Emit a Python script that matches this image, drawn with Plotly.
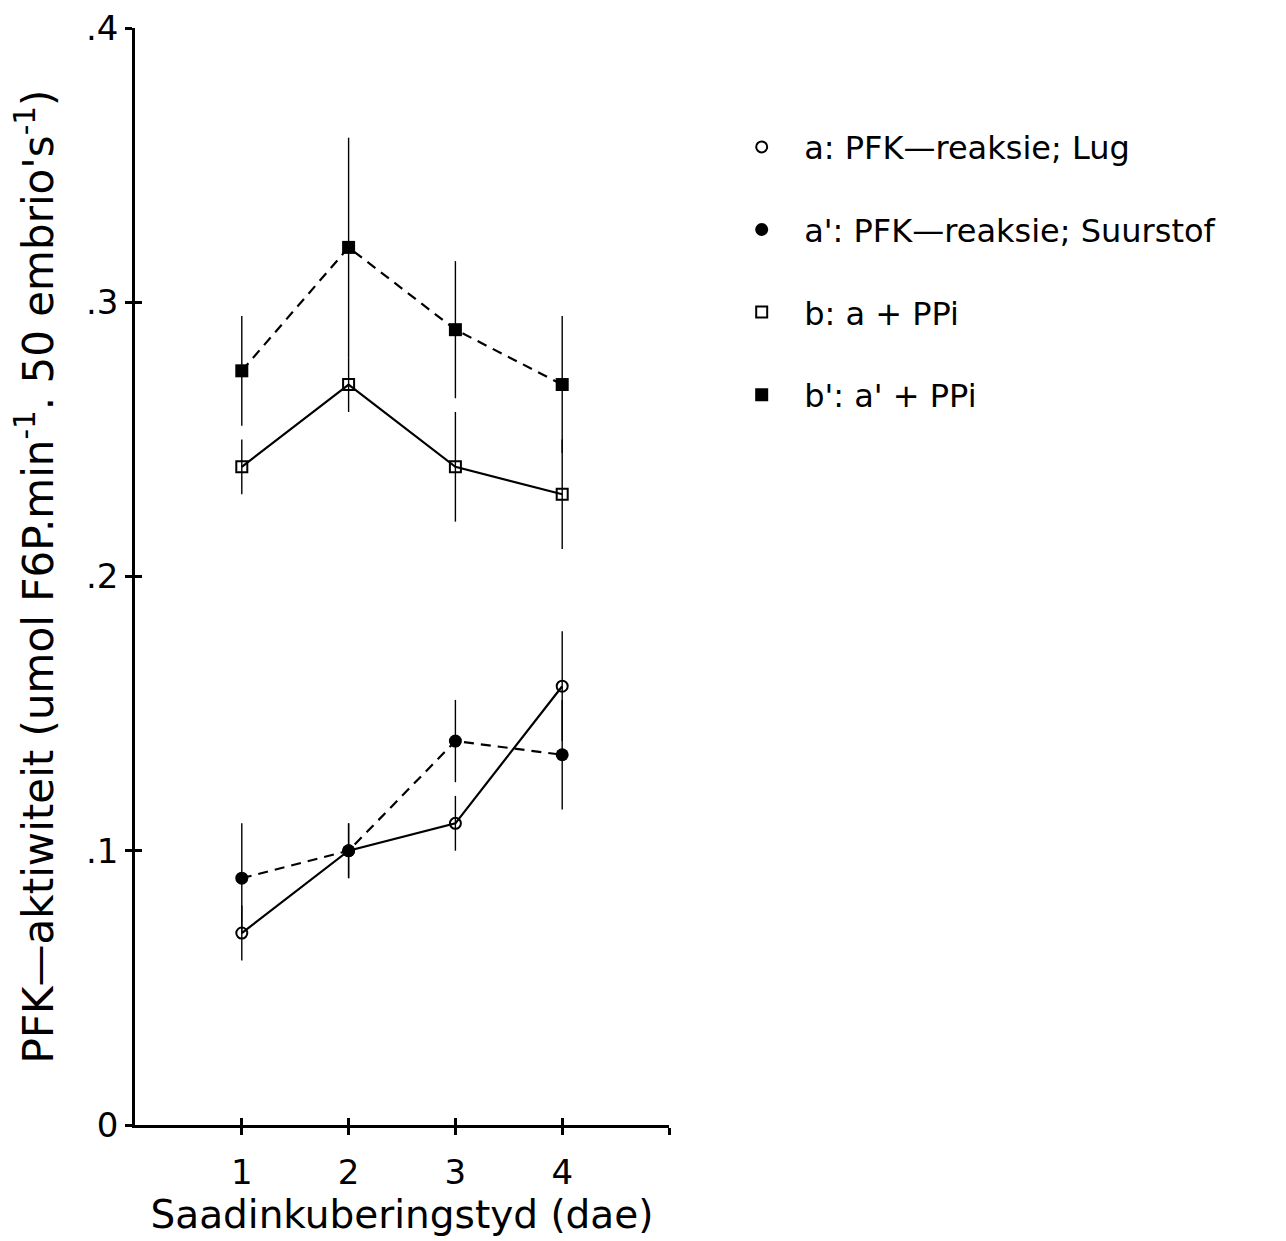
import plotly.graph_objects as go

days = [1, 2, 3, 4]

a_vals = [0.07, 0.10, 0.11, 0.16]
a_err = [0.01, 0.01, 0.01, 0.02]

a2_vals = [0.09, 0.10, 0.14, 0.135]
a2_err = [0.02, 0.01, 0.015, 0.02]

b_vals = [0.24, 0.27, 0.24, 0.23]
b_err = [0.01, 0.01, 0.02, 0.02]

b2_vals = [0.275, 0.32, 0.29, 0.27]
b2_err = [0.02, 0.04, 0.025, 0.025]

names = ["a: PFK—reaksie; Lug", "a': PFK—reaksie; Suurstof", "b: a + PPi", "b': a' + PPi"]

x_ticks = [1, 2, 3, 4]
x_ticktext = ["1", "2", "3", "4"]
x_all_ticks = [1, 2, 3, 4, 5]
x_end_tick = [5]
y_ticks = [0, 0.1, 0.2, 0.3, 0.4]
y_ticktext = ["0", ".1", ".2", ".3", ".4"]

FONT = "DejaVu Sans"
series = [
    (a_vals, a_err, names[0], "solid", "circle-open", 11, 2),
    (a2_vals, a2_err, names[1], "10px,7px", "circle", 13, 0),
    (b_vals, b_err, names[2], "solid", "square-open", 11, 2),
    (b2_vals, b2_err, names[3], "10px,7px", "square", 13, 0),
]

fig = go.Figure()
for vals, err, name, dash, sym, size, lw in series:
    fig.add_trace(go.Scatter(
        x=days, y=vals, mode="lines", showlegend=False, hoverinfo="skip",
        line=dict(color="black", width=2.2, dash=dash),
    ))
for i, (vals, err, name, dash, sym, size, lw) in enumerate(series):
    fig.add_trace(go.Scatter(
        x=days, y=vals, mode="markers", name=name, legendgroup=f"g{i}",
        marker=dict(symbol=sym, size=size, color="black",
                    line=dict(color="black", width=lw if lw else 0)),
        error_y=dict(type="data", array=err, visible=True, color="black",
                     thickness=1.4, width=0),
    ))

fig.add_trace(go.Scatter(x=[None], y=[None], xaxis="x2", yaxis="y2",
                         showlegend=False, hoverinfo="skip"))

fig.update_layout(
    width=1286, height=1241,
    margin=dict(l=135, r=617, t=28, b=116),
    paper_bgcolor="white", plot_bgcolor="white",
    font=dict(family=FONT, color="black", size=34),
    showlegend=True,
    legend=dict(
        x=1.094, y=0.9165, xanchor="left", yanchor="top",
        font=dict(family=FONT, size=32, color="black"),
        tracegroupgap=38, itemwidth=75, bgcolor="rgba(0,0,0,0)",
    ),
    xaxis=dict(
        automargin=False,
        range=[0, 5], tickvals=x_ticks, ticktext=x_ticktext,
        showgrid=False, zeroline=False, showline=True, linecolor="black",
        linewidth=2.5, ticks="outside", ticklen=7, tickwidth=2.5, tickcolor="black",
        ticklabelstandoff=8,
        tickfont=dict(family=FONT, size=34),
        minor=dict(tickvals=x_end_tick, ticks="outside", ticklen=7, tickwidth=2.5,
                   tickcolor="black", showgrid=False),
        title=dict(text="Saadinkuberingstyd (dae)", font=dict(family=FONT, size=39), standoff=11),
    ),
    yaxis=dict(
        automargin=False,
        range=[0, 0.4], tickvals=y_ticks, ticktext=y_ticktext,
        showgrid=False, zeroline=False, showline=True, linecolor="black",
        linewidth=2.5, ticks="outside", ticklen=7, tickwidth=2.5, tickcolor="black",
        tickfont=dict(family=FONT, size=34),
        title=dict(text="PFK—aktiwiteit (umol F6P.min<sup>-1</sup>. 50 embrio's<sup>-1</sup>)",
                   font=dict(family=FONT, size=42), standoff=20),
    ),
    xaxis2=dict(
        overlaying="x", anchor="y", side="bottom", range=[0, 5], tickvals=x_all_ticks,
        showticklabels=False, showgrid=False, zeroline=False, showline=False,
        ticks="inside", ticklen=7, tickwidth=2.5, tickcolor="black",
    ),
    yaxis2=dict(
        overlaying="y", anchor="x", side="left", range=[0, 0.4], tickvals=[0.1, 0.2, 0.3, 0.4],
        showticklabels=False, showgrid=False, zeroline=False, showline=False,
        ticks="inside", ticklen=7, tickwidth=2.5, tickcolor="black",
    ),
)

fig.write_html("out.html")
